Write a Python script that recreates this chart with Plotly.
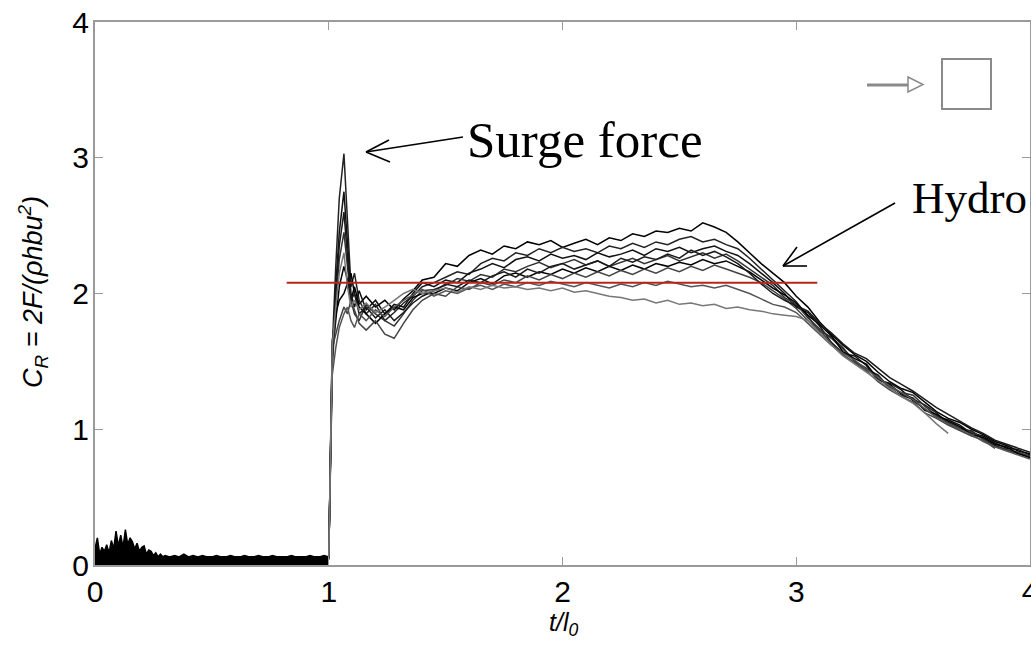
import plotly.graph_objects as go

# ---------------- data ----------------
pre_t = [0.00, 0.01, 0.02, 0.03, 0.04, 0.05, 0.06, 0.07, 0.08, 0.09, 0.10,
         0.11, 0.12, 0.13, 0.14, 0.15, 0.16, 0.17, 0.18, 0.19, 0.20,
         0.21, 0.22, 0.23, 0.24, 0.25, 0.26, 0.27, 0.28, 0.29, 0.30,
         0.32, 0.34, 0.36, 0.38, 0.40, 0.42, 0.44, 0.46, 0.48, 0.50,
         0.52, 0.54, 0.56, 0.58, 0.60, 0.62, 0.64, 0.66, 0.68, 0.70,
         0.72, 0.74, 0.76, 0.78, 0.80, 0.82, 0.84, 0.86, 0.88, 0.90,
         0.92, 0.94, 0.96, 0.98, 1.00]
pre_cr = [0.12, 0.20, 0.08, 0.13, 0.10, 0.15, 0.09, 0.18, 0.12, 0.25, 0.14,
          0.22, 0.13, 0.26, 0.15, 0.20, 0.17, 0.12, 0.16, 0.10, 0.13,
          0.14, 0.08, 0.11, 0.10, 0.07, 0.09, 0.06, 0.08, 0.06, 0.07,
          0.06, 0.07, 0.06, 0.08, 0.06, 0.07, 0.06, 0.07, 0.06, 0.06,
          0.07, 0.06, 0.06, 0.07, 0.06, 0.06, 0.07, 0.06, 0.06, 0.07,
          0.06, 0.06, 0.07, 0.06, 0.06, 0.06, 0.07, 0.06, 0.06, 0.06,
          0.07, 0.06, 0.06, 0.07, 0.06]

t_main = [1.000, 1.015, 1.030, 1.045, 1.065, 1.080, 1.095, 1.110, 1.130, 1.160,
          1.200, 1.240, 1.280, 1.320, 1.360, 1.400,
          1.45, 1.50, 1.55, 1.60, 1.65, 1.70, 1.75, 1.80, 1.85, 1.90,
          1.95, 2.00, 2.05, 2.10, 2.15, 2.20, 2.25, 2.30, 2.35, 2.40,
          2.45, 2.50, 2.55, 2.60, 2.65, 2.70, 2.75, 2.80, 2.85, 2.90,
          2.95, 3.00, 3.05, 3.10, 3.15, 3.20, 3.25, 3.30, 3.35, 3.40,
          3.45, 3.50, 3.55, 3.60, 3.65, 3.70, 3.75, 3.80, 3.85, 3.90,
          3.95, 4.00]

cr_run1 = [0.05, 1.55, 1.80, 2.05, 2.20, 2.10, 1.95, 2.05, 1.92, 1.98, 1.90, 1.95, 1.88, 1.96, 2.02, 2.10,
           2.12, 2.22, 2.20, 2.28, 2.32, 2.29, 2.35, 2.33, 2.38, 2.36, 2.39, 2.34, 2.37, 2.40, 2.36,
           2.41, 2.39, 2.44, 2.42, 2.46, 2.45, 2.48, 2.46, 2.52, 2.49, 2.45, 2.38, 2.30, 2.22, 2.15,
           2.08, 1.98, 1.90, 1.79, 1.70, 1.62, 1.55, 1.50, 1.42, 1.35, 1.30, 1.27, 1.20, 1.13, 1.08,
           1.05, 1.00, 0.96, 0.91, 0.88, 0.84, 0.82]
cr_run2 = [0.04, 1.60, 2.20, 2.70, 3.03, 2.55, 2.05, 2.15, 1.95, 1.85, 1.92, 1.80, 1.86, 1.93, 1.98, 2.05,
           2.08, 2.12, 2.16, 2.14, 2.22, 2.26, 2.24, 2.30, 2.28, 2.33, 2.30, 2.34, 2.31, 2.33, 2.30,
           2.35, 2.33, 2.37, 2.34, 2.38, 2.36, 2.40, 2.42, 2.38, 2.40, 2.36, 2.33, 2.26, 2.18, 2.10,
           2.02, 1.94, 1.83, 1.72, 1.68, 1.60, 1.50, 1.44, 1.40, 1.30, 1.25, 1.22, 1.18, 1.12, 1.04,
           1.00, 0.99, 0.93, 0.88, 0.85, 0.82, 0.80]
cr_run3 = [0.06, 1.50, 2.05, 2.45, 2.75, 2.35, 2.00, 1.90, 2.02, 1.88, 1.95, 1.85, 1.92, 1.90, 2.00, 2.08,
           2.05, 2.10, 2.08, 2.15, 2.18, 2.22, 2.19, 2.25, 2.27, 2.24, 2.29, 2.26, 2.28, 2.25, 2.30,
           2.27, 2.29, 2.32, 2.28, 2.33, 2.31, 2.34, 2.30, 2.33, 2.35, 2.31, 2.28, 2.22, 2.15, 2.08,
           2.00, 1.90, 1.86, 1.76, 1.64, 1.56, 1.54, 1.47, 1.36, 1.34, 1.29, 1.21, 1.15, 1.09, 1.07,
           1.03, 0.97, 0.95, 0.90, 0.86, 0.85, 0.81]
cr_run4 = [0.05, 1.45, 1.90, 2.25, 2.45, 2.20, 1.95, 1.85, 1.80, 1.92, 1.85, 1.80, 1.76, 1.85, 1.95, 2.02,
           2.03, 2.06, 2.11, 2.09, 2.14, 2.12, 2.18, 2.16, 2.20, 2.23, 2.19, 2.22, 2.25, 2.21, 2.24,
           2.20, 2.23, 2.26, 2.22, 2.25, 2.28, 2.24, 2.27, 2.30, 2.26, 2.29, 2.24, 2.18, 2.12, 2.06,
           1.97, 1.92, 1.82, 1.74, 1.67, 1.59, 1.50, 1.45, 1.39, 1.31, 1.27, 1.25, 1.17, 1.10, 1.05,
           1.01, 0.98, 0.93, 0.87, 0.85, 0.83, 0.80]
cr_run5 = [0.05, 1.65, 1.85, 1.95, 2.00, 2.08, 2.15, 2.00, 1.90, 1.85, 1.78, 1.85, 1.90, 1.88, 1.97, 2.00,
           2.00, 2.04, 2.02, 2.08, 2.11, 2.07, 2.13, 2.15, 2.12, 2.16, 2.14, 2.18, 2.15, 2.19, 2.16,
           2.20, 2.17, 2.21, 2.18, 2.22, 2.20, 2.23, 2.21, 2.25, 2.22, 2.24, 2.20, 2.16, 2.10, 2.04,
           1.99, 1.93, 1.84, 1.77, 1.69, 1.57, 1.52, 1.48, 1.37, 1.33, 1.26, 1.23, 1.14, 1.11, 1.06,
           1.02, 0.96, 0.94, 0.89, 0.87, 0.82, 0.79]
cr_run6 = [0.04, 1.60, 1.70, 1.80, 1.90, 1.85, 1.95, 1.88, 1.78, 1.73, 1.80, 1.70, 1.67, 1.78, 1.88, 1.95,
           2.00, 1.98, 2.05, 2.03, 2.08, 2.06, 2.10, 2.08, 2.13, 2.10, 2.14, 2.11, 2.15, 2.12, 2.16,
           2.13, 2.17, 2.14, 2.18, 2.15, 2.19, 2.16, 2.20, 2.17, 2.21, 2.18, 2.15, 2.12, 2.08, 2.02,
           1.96, 1.89, 1.80, 1.73, 1.63, 1.55, 1.49, 1.43, 1.35, 1.29, 1.24, 1.20, 1.12, 1.08, 1.03,
           0.99, 0.95, 0.92, 0.86, None, None, None]
cr_run7 = [0.05, 1.55, 2.00, 2.35, 2.60, 2.30, 1.95, 2.00, 1.85, 1.90, 1.82, 1.88, 1.80, 1.86, 1.93, 1.98,
           2.02, 2.07, 2.05, 2.10, 2.08, 2.13, 2.16, 2.12, 2.18, 2.15, 2.20, 2.22, 2.18, 2.21, 2.24,
           2.20, 2.26, 2.23, 2.27, 2.25, 2.29, 2.26, 2.32, 2.28, 2.31, 2.27, 2.22, 2.15, 2.07, 2.00,
           1.95, 1.91, 1.87, 1.78, 1.71, 1.63, 1.56, 1.52, 1.45, 1.38, 1.33, 1.28, 1.22, 1.16, 1.11,
           1.06, 1.01, 0.97, 0.92, 0.89, 0.86, 0.83]
cr_run8 = [0.06, 1.40, 1.60, 1.75, 1.85, 1.90, 1.80, 1.75, 1.85, 1.80, 1.88, 1.83, 1.90, 1.95, 1.99, 2.03,
           1.98, 2.02, 2.00, 2.04, 2.06, 2.03, 2.07, 2.05, 2.08, 2.06, 2.09, 2.07, 2.05, 2.08, 2.06,
           2.04, 2.07, 2.05, 2.08, 2.06, 2.09, 2.07, 2.05, 2.06, 2.04, 2.06, 2.03, 2.00, 1.96, 1.92,
           1.90, 1.86, 1.78, 1.70, 1.62, 1.56, 1.51, 1.44, 1.38, 1.32, 1.27, 1.22, 1.15, 1.09, 1.04,
           1.00, 0.96, 0.91, 0.87, 0.84, 0.81, 0.78]
cr_run9 = [0.05, 1.62, 1.90, 2.15, 2.30, 2.05, 1.90, 1.95, 1.88, 1.93, 1.86, 1.90, 1.95, 2.00, 2.03, 2.00,
           2.02, 2.04, 2.01, 2.05, 2.03, 2.06, 2.04, 2.05, 2.03, 2.04, 2.02, 2.04, 2.01, 2.02, 2.00,
           1.98, 1.97, 1.95, 1.96, 1.93, 1.95, 1.92, 1.93, 1.91, 1.92, 1.89, 1.90, 1.88, 1.87, 1.85,
           1.84, 1.83, 1.80, 1.71, 1.62, 1.54, 1.48, 1.42, 1.36, 1.30, 1.24, 1.19, 1.12, 1.04, 0.97,
           None, None, None, None, None, None, None]

runs = [cr_run1, cr_run2, cr_run3, cr_run4, cr_run5, cr_run6, cr_run7, cr_run8, cr_run9]
run_colors = ["#000000", "#222222", "#111111", "#333333", "#000000",
              "#444444", "#1a1a1a", "#555555", "#777777"]

mean_t = [0.82, 3.09]
mean_cr = [2.08, 2.08]

x_ticks = [0, 1, 2, 3, 4]
y_ticks = [0, 1, 2, 3, 4]

# ---------------- figure ----------------
W, H = 1031, 655
L, R, T, B = 95, 1, 22, 90
PW, PH = W - L - R, H - T - B


def px2x(px):
    return (px - L) / PW * 4.0


def py2y(py):
    return (T + PH - py) / PH * 4.0


def ppx(px):
    return (px - L) / PW


def ppy(py):
    return (T + PH - py) / PH


fig = go.Figure()

fig.add_trace(go.Scatter(x=pre_t, y=pre_cr, mode="lines", fill="tozeroy",
                         fillcolor="black", line=dict(color="black", width=1.5),
                         showlegend=False, hoverinfo="skip"))

for vals, col in zip(runs, run_colors):
    fig.add_trace(go.Scatter(x=t_main, y=vals, mode="lines",
                             line=dict(color=col, width=1.5),
                             connectgaps=False, showlegend=False))

fig.add_trace(go.Scatter(x=mean_t, y=mean_cr, mode="lines",
                         line=dict(color="#b5271b", width=2),
                         showlegend=False))

axis_common = dict(range=[0, 4], showline=True, linecolor="#9a9a9a", linewidth=2,
                   mirror="ticks", ticks="inside", ticklen=8, tickcolor="#9a9a9a",
                   tickwidth=1, showgrid=False, zeroline=False,
                   ticklabeloverflow="allow",
                   tickfont=dict(family="Liberation Sans, Arial", size=30, color="black"))

fig.update_xaxes(**axis_common, tickvals=x_ticks,
                 ticktext=[str(v) for v in x_ticks], ticklabelstandoff=-1)
fig.update_yaxes(**axis_common, tickvals=y_ticks,
                 ticktext=[str(v) for v in y_ticks], ticklabelstandoff=-2)

shapes = []
ann = []

# axis titles
ann.append(dict(x=ppx(563), y=ppy(624), xref="paper", yref="paper", showarrow=False,
                xanchor="center", yanchor="middle",
                text="<i>t/l<sub>0</sub></i>",
                font=dict(family="Liberation Sans, Arial", size=25, color="black")))
ann.append(dict(x=ppx(33), y=ppy(292), xref="paper", yref="paper", showarrow=False,
                xanchor="center", yanchor="middle", textangle=-90,
                text="<i>C<sub>R</sub> = 2F/(ρhbu<sup>2</sup>)</i>",
                font=dict(family="Liberation Sans, Arial", size=27, color="black")))

# Surge force label
ann.append(dict(x=ppx(465), y=ppy(140), xref="paper", yref="paper", showarrow=False,
                xanchor="left", yanchor="middle", text="Surge force",
                font=dict(family="Liberation Serif, Times New Roman", size=51, color="black")))
# Hydro label (cut by the frame in the original)
ann.append(dict(x=ppx(911), y=ppy(198), xref="paper", yref="paper", showarrow=False,
                xanchor="left", yanchor="middle", text="Hydro",
                bgcolor="white", borderpad=0,
                font=dict(family="Liberation Serif, Times New Roman", size=45, color="black")))


def seg(x0, y0, x1, y1, color="black", width=1.6):
    shapes.append(dict(type="line", xref="x", yref="y",
                       x0=px2x(x0), y0=py2y(y0), x1=px2x(x1), y1=py2y(y1),
                       line=dict(color=color, width=width)))


# surge arrow
seg(463, 137, 366, 152)
seg(366, 152, 389, 140)
seg(366, 152, 390, 162)
# hydro arrow
seg(895, 203, 783, 266)
seg(783, 266, 797, 247)
seg(783, 266, 807, 266)

# flow icon (top right)
seg(867, 85, 909, 85, color="#8a8a8a", width=3)
shapes.append(dict(type="path", xref="x", yref="y",
                   path=f"M {px2x(908)},{py2y(77)} L {px2x(923)},{py2y(84.5)} L {px2x(908)},{py2y(92)} Z",
                   line=dict(color="#8a8a8a", width=1.5), fillcolor="white"))
shapes.append(dict(type="rect", xref="x", yref="y",
                   x0=px2x(942), y0=py2y(59), x1=px2x(991), y1=py2y(109),
                   line=dict(color="#8a8a8a", width=2), fillcolor="rgba(0,0,0,0)"))

fig.update_layout(width=W, height=H, margin=dict(l=L, r=R, t=T, b=B, autoexpand=False),
                  plot_bgcolor="white", paper_bgcolor="white",
                  shapes=shapes, annotations=ann, showlegend=False)

fig.write_html("out.html")
